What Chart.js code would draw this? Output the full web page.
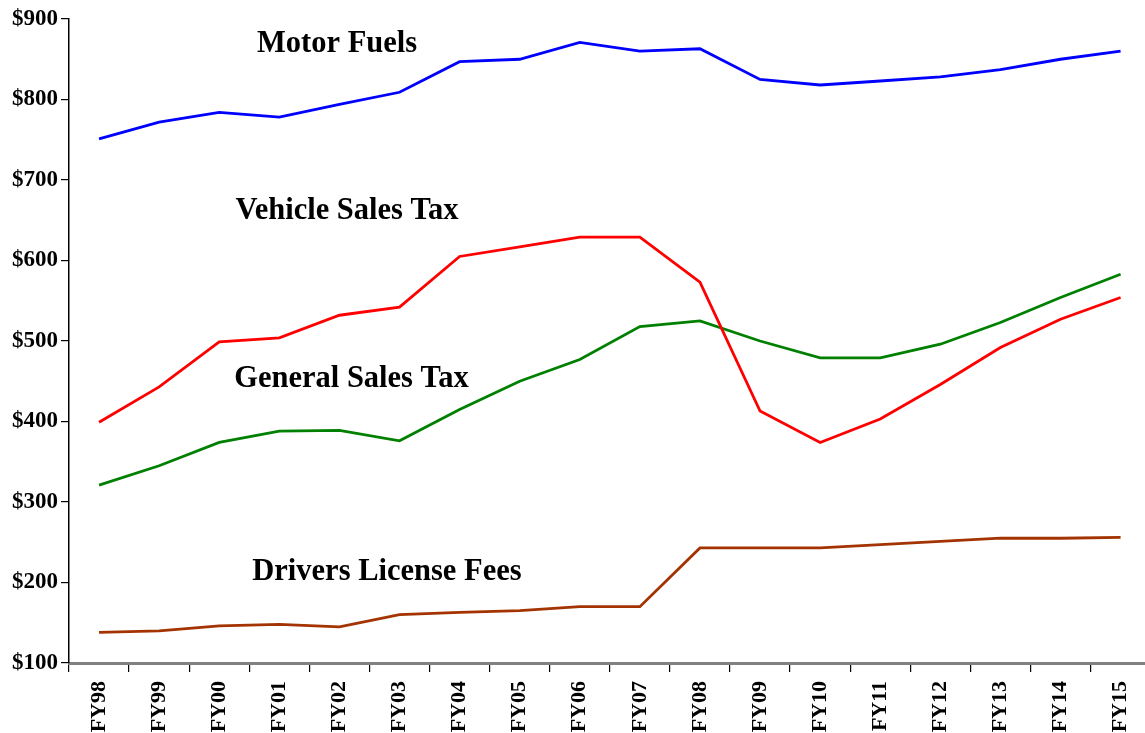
<!DOCTYPE html>
<html>
<head>
<meta charset="utf-8">
<script src="https://cdn.jsdelivr.net/npm/chart.js@4.4.1/dist/chart.umd.min.js"></script>
<style>
  html, body { margin: 0; padding: 0; background: #fff; overflow: hidden; width: 1145px; height: 733px; }
  #wrap { width: 1156px; height: 733px; position: relative; }
</style>
</head>
<body>
<div id="wrap"><canvas id="c"></canvas></div>
<script>
const categories = ['FY98','FY99','FY00','FY01','FY02','FY03','FY04','FY05','FY06','FY07','FY08','FY09','FY10','FY11','FY12','FY13','FY14','FY15'];
const motorFuels = [751, 772, 784, 778, 794, 809, 847, 850, 871, 860, 863, 825, 818, 823, 828, 837, 850, 860];
const vehicleSalesTax = [399, 443, 499, 504, 532, 542, 605, 617, 629, 629, 573, 413, 374, 403, 446, 492, 527, 554];
const generalSalesTax = [321, 345, 374, 388, 389, 376, 415, 450, 477, 518, 525, 500, 479, 479, 496, 523, 554, 583];
const driversLicenseFees = [138, 140, 146, 148, 145, 160, 163, 165, 170, 170, 243, 243, 243, 247, 251, 255, 255, 256];
const yTicks = [100, 200, 300, 400, 500, 600, 700, 800, 900];
const seriesNames = ['Motor Fuels', 'Vehicle Sales Tax', 'General Sales Tax', 'Drivers License Fees'];

const FONT = '"Liberation Serif", "Times New Roman", serif';

// annotation anchors in data coordinates (category index, value at text baseline)
const labelAnchors = [
  { text: seriesNames[0], x: 2.63, y: 859 },
  { text: seriesNames[1], x: 2.27, y: 651 },
  { text: seriesNames[2], x: 2.25, y: 443 },
  { text: seriesNames[3], x: 2.55, y: 203 }
];

const labelPlugin = {
  id: 'seriesLabels',
  afterDatasetsDraw(chart) {
    const ctx = chart.ctx;
    const xs = chart.scales.x, ys = chart.scales.y;
    ctx.save();
    ctx.font = 'bold 30.5px ' + FONT;
    ctx.fillStyle = '#000';
    ctx.textAlign = 'left';
    ctx.textBaseline = 'alphabetic';
    labelAnchors.forEach(a => {
      ctx.fillText(a.text, xs.getPixelForValue(a.x), ys.getPixelForValue(a.y));
    });
    ctx.restore();
  }
};

const mk = (label, data, color) => ({
  label, data, borderColor: color, backgroundColor: color,
  borderWidth: 2.8, pointRadius: 0, tension: 0, fill: false
});

new Chart(document.getElementById('c'), {
  type: 'line',
  data: {
    labels: categories,
    datasets: [
      mk(seriesNames[0], motorFuels, '#0000ff'),
      mk(seriesNames[1], vehicleSalesTax, '#ff0000'),
      mk(seriesNames[2], generalSalesTax, '#008000'),
      mk(seriesNames[3], driversLicenseFees, '#a33300')
    ]
  },
  options: {
    responsive: true,
    maintainAspectRatio: false,
    animation: false,
    layout: { padding: { top: 19, right: 0, left: 0, bottom: 0 } },
    plugins: { legend: { display: false }, tooltip: { enabled: false } },
    scales: {
      x: {
        offset: true,
        grid: { offset: true, drawOnChartArea: false, drawTicks: true, tickLength: 9, color: '#000', lineWidth: 1.2 },
        border: { display: true, color: '#808080', width: 3 },
        ticks: {
          color: '#000', minRotation: 90, maxRotation: 90, autoSkip: false, padding: 9,
          font: { family: FONT, size: 22, weight: 'bold' }
        },
        afterFit(scale) { scale.height = 70; }
      },
      y: {
        min: 100, max: 900,
        afterBuildTicks(scale) { scale.ticks = yTicks.map(v => ({ value: v })); },
        grid: { drawOnChartArea: false, drawTicks: true, tickLength: 8, color: '#000', lineWidth: 1.2 },
        border: { display: true, color: '#000', width: 1.5 },
        ticks: {
          color: '#000', padding: 3,
          font: { family: FONT, size: 23, weight: 'bold' },
          callback: v => '$' + v
        },
        afterFit(scale) { scale.width = 69; }
      }
    }
  },
  plugins: [labelPlugin]
});
</script>
</body>
</html>
